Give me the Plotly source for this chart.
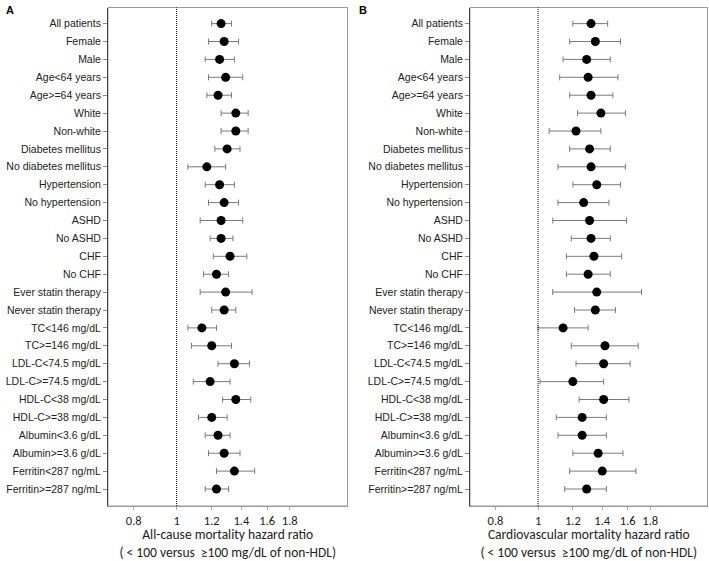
import math
import plotly.graph_objects as go

categories = [
    "All patients", "Female", "Male", "Age<64 years", "Age>=64 years",
    "White", "Non-white", "Diabetes mellitus", "No diabetes mellitus",
    "Hypertension", "No hypertension", "ASHD", "No ASHD", "CHF", "No CHF",
    "Ever statin therapy", "Never statin therapy", "TC<146 mg/dL",
    "TC>=146 mg/dL", "LDL-C<74.5 mg/dL", "LDL-C>=74.5 mg/dL",
    "HDL-C<38 mg/dL", "HDL-C>=38 mg/dL", "Albumin<3.6 g/dL",
    "Albumin>=3.6 g/dL", "Ferritin<287 ng/mL", "Ferritin>=287 ng/mL",
]

# Panel A: all-cause mortality HR (point, lower CI, upper CI)
allcause_hr = [1.26, 1.28, 1.25, 1.29, 1.24, 1.36, 1.36, 1.30, 1.17, 1.25,
               1.28, 1.26, 1.26, 1.32, 1.23, 1.29, 1.28, 1.14, 1.20, 1.35,
               1.19, 1.36, 1.20, 1.24, 1.28, 1.35, 1.23]
allcause_lo = [1.20, 1.18, 1.16, 1.18, 1.17, 1.26, 1.26, 1.22, 1.06, 1.16,
               1.18, 1.13, 1.19, 1.21, 1.15, 1.13, 1.20, 1.06, 1.08, 1.24,
               1.09, 1.27, 1.12, 1.16, 1.18, 1.23, 1.16]
allcause_hi = [1.33, 1.38, 1.35, 1.41, 1.33, 1.45, 1.45, 1.39, 1.29, 1.35,
               1.38, 1.41, 1.34, 1.44, 1.31, 1.48, 1.36, 1.23, 1.33, 1.46,
               1.32, 1.47, 1.30, 1.32, 1.39, 1.50, 1.31]

# Panel B: cardiovascular mortality HR
cv_hr = [1.32, 1.35, 1.29, 1.30, 1.32, 1.39, 1.22, 1.31, 1.32, 1.36,
         1.27, 1.31, 1.32, 1.34, 1.30, 1.36, 1.35, 1.14, 1.42, 1.41,
         1.20, 1.41, 1.26, 1.26, 1.37, 1.40, 1.29]
cv_lo = [1.20, 1.18, 1.14, 1.12, 1.18, 1.23, 1.06, 1.18, 1.11, 1.20,
         1.11, 1.08, 1.19, 1.16, 1.16, 1.08, 1.21, 1.00, 1.19, 1.22,
         1.01, 1.24, 1.10, 1.11, 1.20, 1.18, 1.15]
cv_hi = [1.44, 1.54, 1.46, 1.52, 1.48, 1.58, 1.39, 1.46, 1.58, 1.54,
         1.45, 1.59, 1.46, 1.55, 1.46, 1.72, 1.50, 1.30, 1.69, 1.62,
         1.41, 1.61, 1.43, 1.43, 1.56, 1.67, 1.43]

x_ticks = [0.8, 1, 1.2, 1.4, 1.6, 1.8]
x_tick_text = ["0.8", "1", "1.2", "1.4", "1.6", "1.8"]
x_titles = [
    "All-cause mortality hazard ratio<br>( < 100 versus  \u2265100 mg/dL of non-HDL)",
    "Cardiovascular mortality hazard ratio<br>( < 100 versus  \u2265100 mg/dL of non-HDL)",
]
panel_labels = ["A", "B"]

W, H = 709, 561
SANS = "'Liberation Sans', Arial, sans-serif"
CAL = "Carlito, Lato, sans-serif"
fig = go.Figure()

panels = [(allcause_hr, allcause_lo, allcause_hi), (cv_hr, cv_lo, cv_hi)]
xdomains = [[108 / W, 347.5 / W], [470 / W, 707.5 / W]]
ydomain = [1 - 506 / H, 1 - 7.5 / H]

for i, (hr, lo, hi) in enumerate(panels):
    xa = "x" if i == 0 else "x2"
    ya = "y" if i == 0 else "y2"
    fig.add_trace(go.Scatter(
        x=hr, y=categories, xaxis=xa, yaxis=ya, mode="markers",
        marker=dict(color="black", size=9),
        error_x=dict(type="data", symmetric=False,
                     array=[h - v for h, v in zip(hi, hr)],
                     arrayminus=[v - l for v, l in zip(hr, lo)],
                     color="#7a7a7a", thickness=1, width=3),
        showlegend=False, cliponaxis=False, hoverinfo="skip",
    ))

axis_common_x = dict(
    type="log", range=[math.log10(0.7), math.log10(2.43)],
    tickvals=x_ticks, ticktext=x_tick_text, ticks="outside", ticklen=3,
    tickcolor="#aaa", showgrid=False, zeroline=False, showline=True,
    linecolor="#9a9a9a", linewidth=1, automargin=False,
    tickfont=dict(family=CAL, size=12.5, color="#222"),
)
axis_common_y = dict(
    type="category", categoryarray=categories, range=[26.95, -0.9],
    ticks="outside", ticklen=4, tickcolor="#888", showgrid=False,
    showline=True, linecolor="#444", linewidth=1, automargin=False,
    tickfont=dict(family=SANS, size=10.5, color="#222"),
)

fig.update_layout(
    width=W, height=H, margin=dict(l=0, r=0, t=0, b=0, autoexpand=False),
    paper_bgcolor="white", plot_bgcolor="white",
    xaxis=dict(domain=xdomains[0], anchor="y",
               title=dict(text=x_titles[0], standoff=0,
                          font=dict(family=CAL, size=13.5, color="#222")),
               **axis_common_x),
    xaxis2=dict(domain=xdomains[1], anchor="y2",
                title=dict(text=x_titles[1], standoff=0,
                           font=dict(family=CAL, size=13.5, color="#222")),
                **axis_common_x),
    yaxis=dict(domain=ydomain, anchor="x", **axis_common_y),
    yaxis2=dict(domain=ydomain, anchor="x2", **axis_common_y),
)

for i in range(2):
    xr = "x" if i == 0 else "x2"
    yr = "y" if i == 0 else "y2"
    # frame (top and right edges)
    fig.add_shape(type="rect", xref=f"{xr} domain", yref=f"{yr} domain",
                  x0=0, x1=1, y0=0, y1=1, line=dict(color="#9a9a9a", width=1),
                  layer="below")
    # reference line at HR = 1
    fig.add_shape(type="line", xref=xr, yref=f"{yr} domain",
                  x0=1, x1=1, y0=0, y1=1,
                  line=dict(color="black", width=1, dash="1px,1px"))
    fig.add_annotation(text=f"<b>{panel_labels[i]}</b>", xref="paper", yref="paper",
                       x=[4 / W, 357 / W][i], y=1 - 2 / H, xanchor="left", yanchor="top",
                       showarrow=False,
                       font=dict(family=SANS, size=11, color="black"))

fig.write_html("out.html", config={"displayModeBar": False},
               post_script="document.body.style.margin='0';")
